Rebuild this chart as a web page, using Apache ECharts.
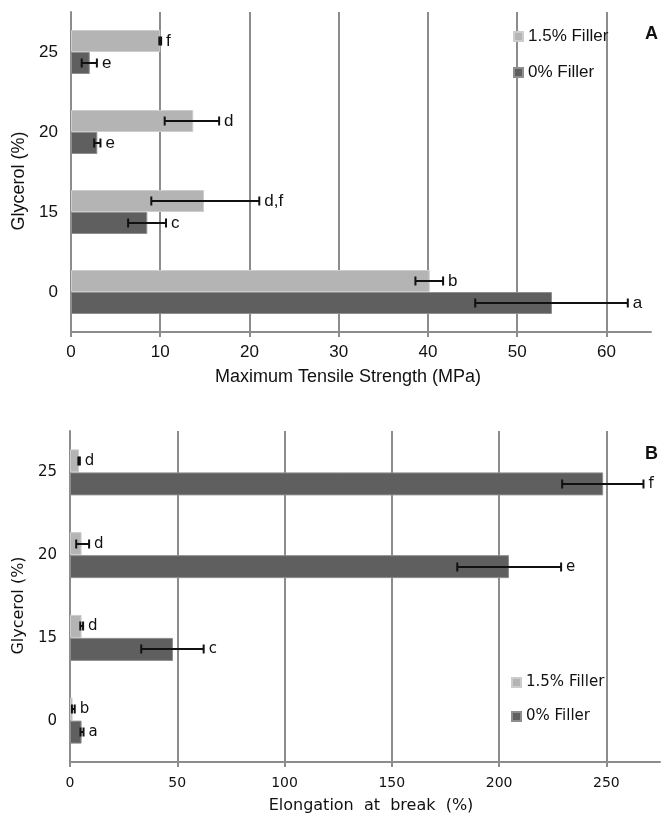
<!DOCTYPE html>
<html>
<head>
<meta charset="utf-8">
<script src="https://cdn.jsdelivr.net/npm/echarts@6/dist/echarts.min.js"></script>
<style>
html, body { margin: 0; background: #fff; }
#chart { width: 664px; height: 820px; }
</style>
</head>
<body>
<div id="chart"></div>
<script>
var glycerol = ['0', '15', '20', '25']; //甘油含量

// A: 最大拉伸强度 (MPa)
var tsFill = [40.2, 14.9, 13.7, 10.0];
var tsFillLow = [38.6, 9.0, 10.5, 9.9];
var tsFillHigh = [41.7, 21.1, 16.6, 10.1];
var tsFillTag = ['b', 'd,f', 'd', 'f'];
var tsNone = [53.9, 8.55, 2.95, 2.1];
var tsNoneLow = [45.3, 6.4, 2.6, 1.2];
var tsNoneHigh = [62.4, 10.65, 3.3, 2.9];
var tsNoneTag = ['a', 'c', 'e', 'e'];

// B: 断裂伸长率 (%)
var elFill = [1.2, 5.4, 5.4, 4.2];
var elFillLow = [0.9, 4.8, 2.9, 3.9];
var elFillHigh = [2.2, 6.1, 8.9, 4.6];
var elFillTag = ['b', 'd', 'd', 'd'];
var elNone = [5.4, 48, 204.6, 248.5];
var elNoneLow = [4.9, 33.2, 180.5, 229.4];
var elNoneHigh = [6.3, 62.3, 228.9, 267.3];
var elNoneTag = ['a', 'c', 'e', 'f'];

var xTicksA = {min: 0, max: 65, interval: 10};
var xTicksB = {min: 0, max: 275, interval: 50};

var lightGray = '#b4b4b4';
var darkGray = '#5f5f5f';
var gridGray = '#8c8c8c';
var ink = '#111';
var fontA = 'Liberation Sans';
var fontB = 'DejaVu Sans';

var chart = echarts.init(document.getElementById('chart'));

//误差线 + 字母标注
function errorSeries(idx, low, high, tags, shift, font, size) {
    var data = [];
    for (var i = 0; i < low.length; i++) {
        data.push([low[i], high[i], i]);
    }
    return {
        type: 'custom',
        name: 'err' + idx + shift,
        xAxisIndex: idx,
        yAxisIndex: idx,
        z: 10,
        data: data,
        encode: {x: [0, 1], y: 2},
        renderItem: function(params, api) {
            var a = api.coord([api.value(0), api.value(2)]);
            var b = api.coord([api.value(1), api.value(2)]);
            var y = Math.round(a[1] + shift);
            var cap = 4.5;
            var st = {stroke: ink, lineWidth: 2};
            return {
                type: 'group',
                children: [
                    {type: 'line', shape: {x1: a[0], y1: y, x2: b[0], y2: y}, style: st},
                    {type: 'line', shape: {x1: a[0], y1: y - cap, x2: a[0], y2: y + cap}, style: st},
                    {type: 'line', shape: {x1: b[0], y1: y - cap, x2: b[0], y2: y + cap}, style: st},
                    {type: 'text', x: b[0] + 5, y: y, style: {
                        text: tags[params.dataIndex], fill: ink,
                        font: size + 'px "' + font + '"',
                        verticalAlign: 'middle', align: 'left'
                    }}
                ]
            };
        }
    };
}

function valueAxis(idx, ticks, name, font, labelSize, nameSize, nameGap, labelMargin, namePad) {
    return {
        type: 'value',
        gridIndex: idx,
        min: ticks.min,
        max: ticks.max,
        interval: ticks.interval,
        name: name,
        nameLocation: 'middle',
        nameGap: nameGap,
        nameTextStyle: {fontFamily: font, fontSize: nameSize, color: ink, padding: namePad},
        axisLine: {show: true, lineStyle: {color: gridGray, width: 2}},
        axisTick: {show: true, length: 5, lineStyle: {color: gridGray, width: 2}},
        axisLabel: {fontFamily: font, fontSize: labelSize, color: ink, margin: labelMargin, showMaxLabel: false},
        splitLine: {show: true, showMinLine: false, showMaxLine: false, lineStyle: {color: gridGray, width: 2}}
    };
}

function catAxis(idx, font, labelSize, nameSize) {
    return {
        type: 'category',
        gridIndex: idx,
        data: glycerol,
        name: 'Glycerol (%)',
        nameLocation: 'middle',
        nameRotate: 90,
        nameGap: 37,
        nameTextStyle: {fontFamily: font, fontSize: nameSize, color: ink, padding: [0, 18, 0, 0]},
        axisLine: {show: true, lineStyle: {color: gridGray, width: 2}},
        axisTick: {show: false},
        axisLabel: {fontFamily: font, fontSize: labelSize, color: ink, margin: 13}
    };
}

function barSeries(idx, name, values, color, border, width) {
    return {
        type: 'bar',
        name: name,
        xAxisIndex: idx,
        yAxisIndex: idx,
        data: values,
        barWidth: width,
        barGap: '0%',
        itemStyle: {color: color, borderColor: border, borderWidth: 1},
        emphasis: {disabled: true}
    };
}

var barA = 22, barB = 23;

chart.setOption({
    animation: false,
    grid: [
        {left: 71, top: 12, width: 580, height: 320},
        {left: 70, top: 431, width: 590, height: 331}
    ],
    title: [
        {text: 'A', left: 645, top: 25, padding: 0, textStyle: {fontFamily: fontA, fontSize: 18, fontWeight: 'bold', color: ink}},
        {text: 'B', left: 645, top: 445, padding: 0, textStyle: {fontFamily: fontA, fontSize: 18, fontWeight: 'bold', color: ink}}
    ],
    legend: [
        {orient: 'vertical', left: 508, top: 23, itemWidth: 9, itemHeight: 9, itemGap: 19, icon: 'rect',
            textStyle: {fontFamily: fontA, fontSize: 17, color: ink}, data: ['1.5% Filler', '0% Filler'], selectedMode: false},
        {orient: 'vertical', left: 506, top: 670, itemWidth: 9, itemHeight: 9, itemGap: 19, icon: 'rect',
            textStyle: {fontFamily: fontB, fontSize: 15, color: ink}, data: ['1.5% Filler', '0% Filler'], selectedMode: false}
    ],
    xAxis: [
        valueAxis(0, xTicksA, 'Maximum Tensile Strength (MPa)', fontA, 17, 18, 36, 12, [0, 26, 0, 0]),
        valueAxis(1, xTicksB, 'Elongation  at  break  (%)', fontB, 14, 16, 36, 14, [0, 0, 0, 12])
    ],
    yAxis: [
        catAxis(0, fontA, 17, 18),
        catAxis(1, fontB, 15, 16)
    ],
    series: [
        //横向柱状图中第一个系列在上方
        barSeries(0, '1.5% Filler', tsFill, lightGray, '#cdcdcd', barA),
        barSeries(0, '0% Filler', tsNone, darkGray, '#8e8e8e', barA),
        barSeries(1, '1.5% Filler', elFill, lightGray, '#cdcdcd', barB),
        barSeries(1, '0% Filler', elNone, darkGray, '#8e8e8e', barB),
        errorSeries(0, tsNoneLow, tsNoneHigh, tsNoneTag, barA / 2, fontA, 17),
        errorSeries(0, tsFillLow, tsFillHigh, tsFillTag, -barA / 2, fontA, 17),
        errorSeries(1, elNoneLow, elNoneHigh, elNoneTag, barB / 2, fontB, 15),
        errorSeries(1, elFillLow, elFillHigh, elFillTag, -barB / 2, fontB, 15)
    ]
});
</script>
</body>
</html>
